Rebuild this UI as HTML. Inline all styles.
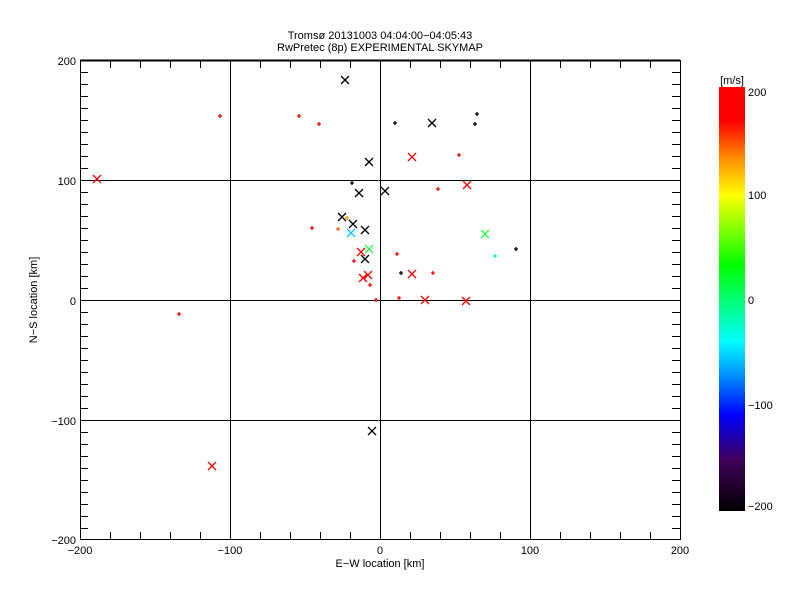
<!DOCTYPE html>
<html><head><meta charset="utf-8"><style>
body{margin:0;background:#fff;width:800px;height:600px;overflow:hidden}
svg{display:block}
text{font-family:"Liberation Sans","DejaVu Sans",sans-serif;font-size:11px;fill:#000}
</style></head><body>
<svg width="800" height="600" viewBox="0 0 800 600">
<defs>
<linearGradient id="cb" x1="0" y1="1" x2="0" y2="0">
<stop offset="0" stop-color="#000"/>
<stop offset="0.12" stop-color="#40005a"/>
<stop offset="0.227" stop-color="#0000ff"/>
<stop offset="0.32" stop-color="#0090ff"/>
<stop offset="0.40" stop-color="#00ffff"/>
<stop offset="0.50" stop-color="#00ff70"/>
<stop offset="0.58" stop-color="#00ff00"/>
<stop offset="0.745" stop-color="#ffff00"/>
<stop offset="0.83" stop-color="#ff9000"/>
<stop offset="0.92" stop-color="#ff0000"/>
<stop offset="1" stop-color="#ff0000"/>
</linearGradient>
</defs>
<g stroke="#000" stroke-width="1" fill="none" shape-rendering="crispEdges">
<rect x="80.5" y="60.5" width="600" height="479"/>
<line x1="80" y1="60.5" x2="680" y2="60.5" stroke-width="2"/>
<line x1="230.5" y1="60" x2="230.5" y2="540"/>
<line x1="380.5" y1="60" x2="380.5" y2="540"/>
<line x1="530.5" y1="60" x2="530.5" y2="540"/>
<line x1="80" y1="180.5" x2="680" y2="180.5"/>
<line x1="80" y1="300.5" x2="680" y2="300.5"/>
<line x1="80" y1="420.5" x2="680" y2="420.5"/>
<path d="M110.5 60v8M140.5 60v8M170.5 60v8M200.5 60v8M260.5 60v8M290.5 60v8M320.5 60v8M350.5 60v8M410.5 60v8M440.5 60v8M470.5 60v8M500.5 60v8M560.5 60v8M590.5 60v8M620.5 60v8M650.5 60v8
M110.5 540v-8M140.5 540v-8M170.5 540v-8M200.5 540v-8M260.5 540v-8M290.5 540v-8M320.5 540v-8M350.5 540v-8M410.5 540v-8M440.5 540v-8M470.5 540v-8M500.5 540v-8M560.5 540v-8M590.5 540v-8M620.5 540v-8M650.5 540v-8"/>
<path d="M80 72.5h8M80 84.5h8M80 96.5h8M80 108.5h8M80 120.5h8M80 132.5h8M80 144.5h8M80 156.5h8M80 168.5h8M80 192.5h8M80 204.5h8M80 216.5h8M80 228.5h8M80 240.5h8M80 252.5h8M80 264.5h8M80 276.5h8M80 288.5h8M80 312.5h8M80 324.5h8M80 336.5h8M80 348.5h8M80 360.5h8M80 372.5h8M80 384.5h8M80 396.5h8M80 408.5h8M80 432.5h8M80 444.5h8M80 456.5h8M80 468.5h8M80 480.5h8M80 492.5h8M80 504.5h8M80 516.5h8M80 528.5h8
M680 72.5h-8M680 84.5h-8M680 96.5h-8M680 108.5h-8M680 120.5h-8M680 132.5h-8M680 144.5h-8M680 156.5h-8M680 168.5h-8M680 192.5h-8M680 204.5h-8M680 216.5h-8M680 228.5h-8M680 240.5h-8M680 252.5h-8M680 264.5h-8M680 276.5h-8M680 288.5h-8M680 312.5h-8M680 324.5h-8M680 336.5h-8M680 348.5h-8M680 360.5h-8M680 372.5h-8M680 384.5h-8M680 396.5h-8M680 408.5h-8M680 432.5h-8M680 444.5h-8M680 456.5h-8M680 468.5h-8M680 480.5h-8M680 492.5h-8M680 504.5h-8M680 516.5h-8M680 528.5h-8"/>
</g>
<g fill="none" stroke-width="1.3">
<path stroke="#000" d="M341 76l8 8m-8 0l8-8M428 119l8 8m-8 0l8-8M365 158l8 8m-8 0l8-8M355 189l8 8m-8 0l8-8M381 187l8 8m-8 0l8-8M338 213l8 8m-8 0l8-8M349 220l8 8m-8 0l8-8M361 226l8 8m-8 0l8-8M361 255l8 8m-8 0l8-8M368 427l8 8m-8 0l8-8"/>
<path stroke="#f00" d="M408 153l8 8m-8 0l8-8M463 181l8 8m-8 0l8-8M357 248l8 8m-8 0l8-8M408 270l8 8m-8 0l8-8M364 271l8 8m-8 0l8-8M359 274l8 8m-8 0l8-8M421 296l8 8m-8 0l8-8M462 297l8 8m-8 0l8-8M93 175l8 8m-8 0l8-8M208 462l8 8m-8 0l8-8"/>
<path stroke="#00c8ff" d="M347 229l8 8m-8 0l8-8"/>
<path stroke="#20ff40" d="M481 230l8 8m-8 0l8-8M365 245l8 8m-8 0l8-8"/>
<path stroke="#000" d="M393 123h4m-2-2v4M475 114h4m-2-2v4M473 124h4m-2-2v4M350 183h4m-2-2v4M514 249h4m-2-2v4M399 273h4m-2-2v4"/>
<path stroke="#f00" d="M297 116h4m-2-2v4M317 124h4m-2-2v4M457 155h4m-2-2v4M436 189h4m-2-2v4M310 228h4m-2-2v4M395 254h4m-2-2v4M352 261h4m-2-2v4M431 273h4m-2-2v4M368 285h4m-2-2v4M374 300h4m-2-2v4M397 298h4m-2-2v4M218 116h4m-2-2v4M177 314h4m-2-2v4"/>
<path stroke="#ffa000" d="M345 218h4m-2-2v4"/>
<path stroke="#ff6000" d="M336 229h4m-2-2v4"/>
<path stroke="#00ffa0" d="M493 256h4m-2-2v4"/>
</g>
<g text-anchor="end">
<text x="76" y="65">200</text><text x="76" y="185">100</text><text x="76" y="305">0</text><text x="76" y="425">−100</text><text x="76" y="544">−200</text>
</g>
<g text-anchor="middle">
<text x="80" y="554">−200</text><text x="230" y="554">−100</text><text x="380" y="554">0</text><text x="530" y="554">100</text><text x="680" y="554">200</text>
<text x="380" y="567">E−W location [km]</text>
<text x="380" y="39" font-size="12">Tromsø 20131003 04:04:00−04:05:43</text>
<text x="380" y="51" font-size="12">RwPretec (8p) EXPERIMENTAL SKYMAP</text>
<text transform="translate(37,300) rotate(-90)">N−S location [km]</text>
<text x="732" y="84" font-size="12">[m/s]</text>
</g>
<rect x="719" y="87" width="26" height="424" fill="url(#cb)"/>
<text x="748" y="96">200</text><text x="748" y="199">100</text><text x="748" y="304">0</text><text x="748" y="409">−100</text><text x="748" y="510">−200</text>
</svg>
</body></html>
